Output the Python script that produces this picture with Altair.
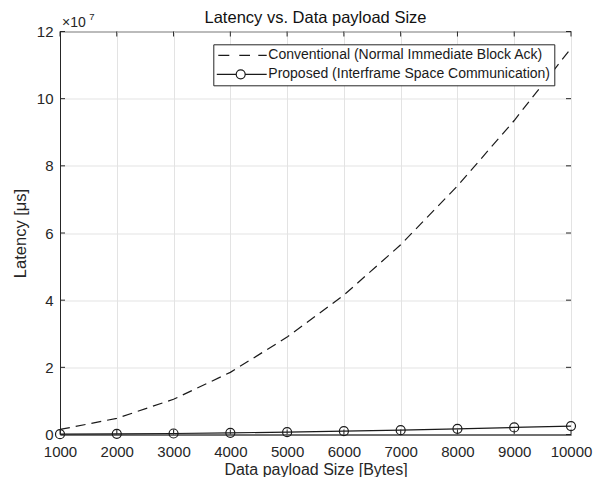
import altair as alt
import pandas as pd

# ---- data (latency in units of 1e7 microseconds) ----
payload = [1000, 2000, 3000, 4000, 5000, 6000, 7000, 8000, 9000, 10000]
conventional = [0.15, 0.48, 1.05, 1.85, 2.9, 4.15, 5.65, 7.4, 9.35, 11.5]
proposed = [0.01, 0.02, 0.03, 0.05, 0.07, 0.10, 0.13, 0.17, 0.21, 0.25]
series_names = [
    "Conventional (Normal Immediate Block Ack)",
    "Proposed (Interframe Space Communication)",
]
x_ticks = [1000, 2000, 3000, 4000, 5000, 6000, 7000, 8000, 9000, 10000]
y_ticks = [0, 2, 4, 6, 8, 10, 12]
chart_title = "Latency vs. Data payload Size"

df = pd.DataFrame({
    "x": payload + payload,
    "y": conventional + proposed,
    "series": [series_names[0]] * len(payload) + [series_names[1]] * len(payload),
})

W, H = 511, 403
FONT = "Liberation Sans"
INK = "#1a1a1a"
AX = "#262626"

xs = alt.Scale(domain=[1000, 10000], nice=False, zero=False)
ys = alt.Scale(domain=[0, 12], nice=False)
x_axis = alt.Axis(values=x_ticks, format="d", title="Data payload Size [Bytes]",
                  labelPadding=10, grid=True, labelFlush=False, labelOverlap=False,
                  titleBaseline="alphabetic", titleY=39.5, titleFontSize=16)
y_axis = alt.Axis(values=y_ticks, format="d", title="Latency [μs]",
                  labelPadding=7, grid=True, labelFlush=False, labelOverlap=False,
                  titleBaseline="alphabetic", titleX=-34.5)
x_enc = alt.X("x:Q", scale=xs, axis=x_axis)
y_enc = alt.Y("y:Q", scale=ys, axis=y_axis)

base = alt.Chart(df)

conv_line = base.transform_filter(alt.datum.series == series_names[0]).mark_line(
    color=INK, strokeWidth=1.2, strokeDash=[10, 6]
).encode(x=x_enc, y=y_enc)

prop_line = base.transform_filter(alt.datum.series == series_names[1]).mark_line(
    color=INK, strokeWidth=1.2
).encode(x=x_enc, y=y_enc)

points = base.transform_filter(alt.datum.series == series_names[1]).mark_point(
    shape="circle", filled=False, size=81, color=INK, strokeWidth=1.2, opacity=1
).encode(x=x_enc, y=y_enc)

# legend-only layer (invisible marks), symbols are custom line paths
path_conv = "M-1.2,0L1.0,0M3.0,0L5.14,0M6.8,0L8.48,0"
path_prop = ("M-1.5,0L2.38,0M4.18,0L8.48,0"
             "M4.18,0A0.9,0.9 0 1 1 2.38,0A0.9,0.9 0 1 1 4.18,0")
legend_layer = base.mark_point(
    filled=False, size=100, color=INK, strokeWidth=1.2, opacity=0
).encode(
    x=x_enc, y=y_enc,
    shape=alt.Shape(
        "series:N",
        scale=alt.Scale(domain=series_names, range=[path_conv, path_prop]),
        legend=alt.Legend(
            title=None, orient="none", legendX=153.3, legendY=12.8,
            padding=4, strokeColor=AX, fillColor="white",
            cornerRadius=0, direction="vertical",
            labelFont=FONT, labelFontSize=14, labelColor=INK,
            labelLimit=500, labelOffset=37, rowPadding=5,
            symbolSize=100, symbolStrokeWidth=1.2, symbolStrokeColor=INK,
            symbolFillColor="transparent", symbolOpacity=1,
        ),
    ),
)

xt = pd.DataFrame({"x": x_ticks})
yt = pd.DataFrame({"y": y_ticks})
tick_x_bottom = alt.Chart(xt).mark_rule(color=AX, strokeWidth=1).encode(
    x=x_enc, y=alt.value(H), y2=alt.value(H - 5))
tick_x_top = alt.Chart(xt).mark_rule(color=AX, strokeWidth=1).encode(
    x=x_enc, y=alt.value(0), y2=alt.value(5))
tick_y_left = alt.Chart(yt).mark_rule(color=AX, strokeWidth=1).encode(
    y=y_enc, x=alt.value(0), x2=alt.value(5))
tick_y_right = alt.Chart(yt).mark_rule(color=AX, strokeWidth=1).encode(
    y=y_enc, x=alt.value(W), x2=alt.value(W - 5))

exp_df = pd.DataFrame({"x": [1000], "y": [12]})
times10 = alt.Chart(exp_df).mark_text(
    text="×10", align="left", baseline="alphabetic", dx=2, dy=-5,
    font=FONT, fontSize=14, color=AX
).encode(x=x_enc, y=y_enc)
seven = alt.Chart(exp_df).mark_text(
    text="7", align="left", baseline="alphabetic", dx=29.3, dy=-11.4,
    font=FONT, fontSize=9.5, color=AX
).encode(x=x_enc, y=y_enc)

title_df = pd.DataFrame({"x": [5500], "y": [12], "t": [chart_title]})
title_mark = alt.Chart(title_df).mark_text(
    align="center", baseline="alphabetic", dy=-9,
    font=FONT, fontSize=16.5, color="#111111"
).encode(x=x_enc, y=y_enc, text="t:N")

chart = alt.layer(
    conv_line, prop_line, points, legend_layer,
    tick_x_bottom, tick_x_top, tick_y_left, tick_y_right,
    times10, seven, title_mark,
).properties(
    width=W, height=H,
    autosize=alt.AutoSizeParams(type="none"),
    padding={"left": 52, "top": 23.5, "right": 30, "bottom": 42.5},
).configure(
    font=FONT, background="white",
).configure_view(
    stroke=AX, strokeWidth=1,
).configure_axis(
    domainColor=AX, domainWidth=1, ticks=False,
    gridColor="#e3e3e3", gridWidth=1,
    labelFont=FONT, labelFontSize=15, labelColor=AX,
    titleFont=FONT, titleFontSize=16.5, titleFontWeight="normal", titleColor=AX,
)

chart.save("out.html", embed_options={"renderer": "svg", "actions": False})
